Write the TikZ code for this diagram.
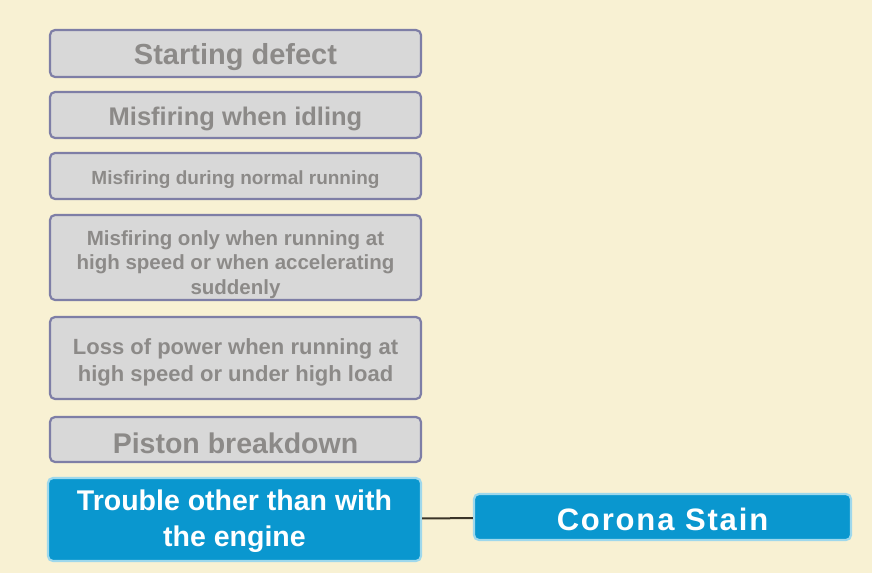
\documentclass[tikz,border=0pt]{standalone}
\usepackage{fontspec}
\setmainfont{Liberation Sans}
\definecolor{pagebg}{HTML}{F8F1D3}
\definecolor{greyfill}{HTML}{D8D8D8}
\definecolor{greyedge}{HTML}{7E7EA6}
\definecolor{greytext}{HTML}{8C8A88}
\definecolor{bluefill}{HTML}{0A97CF}
\definecolor{blueedge}{HTML}{9ED8EC}
\definecolor{linkdark}{HTML}{3A3428}

\begin{document}
\begin{tikzpicture}[
    x=1pt, y=-1pt,
    greybox/.style={draw=greyedge, fill=greyfill, line width=2.2pt, rounded corners=5pt,
        inner sep=0pt, minimum width=371pt},
    bluebox/.style={draw=blueedge, fill=bluefill, line width=2.2pt, rounded corners=5pt,
        inner sep=0pt},
    greytxt/.style={text=greytext, align=center, inner sep=0pt, yshift=-4pt},
    bluetxt/.style={text=white, align=center, inner sep=0pt, yshift=-2pt},
    fs/.style 2 args={font=\bfseries\fontsize{#1}{#2}\selectfont},
    link/.style={line width=2pt, linkdark}
]

\pgfmathsetmacro{\colX}{235.5}

% Background
\fill[pagebg] (0,0) rectangle (872,573);
\useasboundingbox (0,0) rectangle (872,573);

% Grey symptom boxes
\node[greybox, minimum height=47pt, label={[greytxt, fs={29}{32}]center:Starting defect}]
    (start) at (\colX, 53.5) {};
\node[greybox, minimum height=46pt, label={[greytxt, fs={25.5}{29}]center:Misfiring when idling}]
    (idle) at (\colX, 115) {};
\node[greybox, minimum height=46pt, label={[greytxt, fs={19}{23}]center:Misfiring during normal running}]
    (normal) at (\colX, 176) {};
\node[greybox, minimum height=85pt, label={[greytxt, fs={20.5}{24.5}, yshift=-3pt]center:{Misfiring only when running at\\high speed or when accelerating\\suddenly}}]
    (speed) at (\colX, 257.5) {};
\node[greybox, minimum height=82pt, label={[greytxt, fs={22}{27}]center:{Loss of power when running at\\high speed or under high load}}]
    (power) at (\colX, 358) {};
\node[greybox, minimum height=45pt, label={[greytxt, fs={28.5}{32}]center:Piston breakdown}]
    (piston) at (\colX, 439.5) {};

% Blue boxes
\node[bluebox, minimum width=373pt, minimum height=83pt, label={[bluetxt, fs={28.5}{36}]center:{Trouble other than with\\the engine}}]
    (other) at (234.5, 519.5) {};
\node[bluebox, minimum width=377pt, minimum height=46pt, label={[bluetxt, fs={31}{34}]center:{\addfontfeature{LetterSpace=6}Corona Stain}}]
    (corona) at (662.5, 517) {};

% Connector
\draw[link] (other) -- (corona);

\end{tikzpicture}
\end{document}
